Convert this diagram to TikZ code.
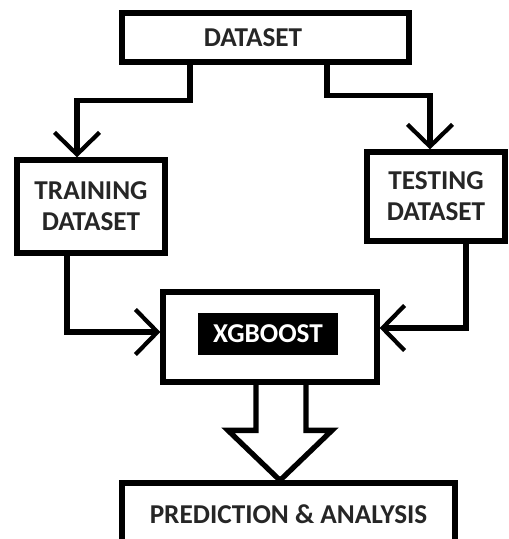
\documentclass[tikz,border=0pt]{standalone}
\usepackage{fontspec}
\setmainfont{Carlito}
\usetikzlibrary{arrows.meta,calc}
\tikzset{
  blockbox/.style={rectangle,draw=black,line width=3pt,fill=white,align=center,inner sep=0pt,text=black!85,font=\bfseries\fontsize{15.5}{17.5}\selectfont},
  labelbox/.style={rectangle,fill=black,text=white,inner sep=0pt,font=\bfseries\fontsize{15.5}{17.5}\selectfont},
  arrow/.style={-{Straight Barb[length=4.4mm,width=9mm,line width=2.4pt]},line width=3pt},
  fatarrow/.style={line width=3pt,line join=miter}
}

\begin{document}
\begin{tikzpicture}[x=0.02cm,y=-0.02cm]
  \useasboundingbox (0,0) rectangle (509,539);

  \node[blockbox,minimum width=5.74cm,minimum height=0.98cm] (dataset) at (265.5,37.5) {\hspace*{-0.5cm}DATASET};
  \node[blockbox,minimum width=2.96cm,minimum height=1.86cm] (train) at (91,206.5) {TRAINING\\DATASET};
  \node[blockbox,minimum width=2.76cm,minimum height=1.78cm] (test) at (436,196.5) {TESTING\\DATASET};
  \node[blockbox,minimum width=4.28cm,minimum height=1.8cm] (xg) at (270,337) {};
  \node[labelbox,minimum width=2.8cm,minimum height=0.84cm] (xglabel) at (268,334) {XGBOOST};
  \node[blockbox,minimum width=6.66cm,minimum height=1.24cm] (pred) at (288.5,514) {PREDICTION \& ANALYSIS};

  % split of the data
  \draw[arrow] ($(dataset.south)+(-75.5,0)$) -- ++(0,36) -| ($(train.north)+(-14,0)$);
  \draw[arrow] ($(dataset.south)+(61.5,0)$) -- ++(0,31) -| ($(test.north)+(-6,0)$);

  % into the model
  \draw[arrow] ($(train.south)+(-24,0)$) |- ($(xg.west)+(0,-5)$);
  \draw[arrow] ($(test.south)+(30,0)$) |- ($(xg.east)+(0,-9)$);

  % output
  \coordinate (tip) at ($(pred.north)+(-8.5,0)$);
  \draw[fatarrow] ($(xg.south)+(-14,0)$) -- ($(tip)+(-24,-50)$) -- ($(tip)+(-52,-50)$)
    -- (tip) -- ($(tip)+(52,-50)$) -- ($(tip)+(26,-50)$) -- ($(xg.south)+(36,0)$);
\end{tikzpicture}
\end{document}
